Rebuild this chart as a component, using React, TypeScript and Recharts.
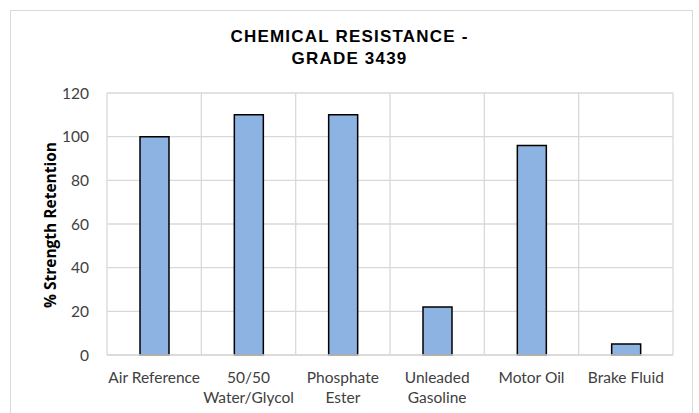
import React from 'react';
import { BarChart, Bar, XAxis, YAxis, CartesianGrid } from 'recharts';

// 類別與數值
const categories = [
  'Air Reference',
  '50/50\nWater/Glycol',
  'Phosphate\nEster',
  'Unleaded\nGasoline',
  'Motor Oil',
  'Brake Fluid',
];
const retention = [100, 110, 110, 22, 96, 5];
const yTicks = [0, 20, 40, 60, 80, 100, 120];

const data = categories.map((name, i) => ({ name, value: retention[i] }));

const labelFont = 'Lato, "Open Sans", sans-serif';
const gridColor = '#d9d9d9';

// 多行 X 軸標籤
const CategoryTick = (props: any) => {
  const { x, y, payload } = props;
  const lines = String(payload.value).split('\n');
  return (
    <g transform={`translate(${x},${y})`}>
      {lines.map((line, i) => (
        <text
          key={i}
          x={0}
          y={i * 20}
          dy={14}
          textAnchor="middle"
          fill="#404040"
          fontSize={15.5}
          fontFamily={labelFont}
        >
          {line}
        </text>
      ))}
    </g>
  );
};

// 類別分隔的垂直格線
const boundaryLines = ({ offset }: any) => {
  const n = categories.length;
  const out: number[] = [];
  for (let i = 0; i <= n; i++) out.push(offset.left + (offset.width * i) / n);
  return out;
};

export default function App() {
  return (
    <div
      style={{
        position: 'absolute',
        left: 0,
        top: 0,
        width: 699,
        height: 413,
        background: '#fff',
        overflow: 'hidden',
      }}
    >
      <div
        style={{
          position: 'absolute',
          left: 10,
          top: 10,
          width: 681,
          height: 420,
          border: '1px solid #d9d9d9',
        }}
      />
      <div
        style={{
          position: 'absolute',
          left: 0,
          top: 26,
          width: 699,
          textAlign: 'center',
          fontFamily: '"Liberation Sans", Arial, sans-serif',
          fontWeight: 'bold',
          fontSize: 17,
          letterSpacing: 1.2,
          lineHeight: '22px',
          color: '#000',
        }}
      >
        CHEMICAL RESISTANCE -
        <br />
        GRADE 3439
      </div>
      <div
        style={{
          position: 'absolute',
          left: 50,
          top: 225,
          transform: 'translate(-50%, -50%) rotate(-90deg)',
          whiteSpace: 'nowrap',
          fontFamily: '"Open Sans", sans-serif',
          fontWeight: 'bold',
          fontSize: 15.5,
          color: '#000',
        }}
      >
        % Strength Retention
      </div>
      <BarChart
        width={699}
        height={413}
        data={data}
        margin={{ top: 93, right: 26, left: 0, bottom: 0 }}
        style={{ position: 'absolute', left: 0, top: 0 }}
      >
        <CartesianGrid
          stroke={gridColor}
          strokeWidth={1.3}
          verticalCoordinatesGenerator={boundaryLines}
        />
        <XAxis
          dataKey="name"
          height={58}
          interval={0}
          tickLine={false}
          axisLine={{ stroke: gridColor, strokeWidth: 1.3 }}
          tick={<CategoryTick />}
          tickMargin={8}
        />
        <YAxis
          width={107}
          domain={[0, 120]}
          ticks={yTicks}
          tickLine={false}
          axisLine={false}
          tickMargin={12}
          tick={{ fill: '#404040', fontSize: 15.5, fontFamily: labelFont }}
        />
        <Bar
          dataKey="value"
          fill="#8DB3E2"
          stroke="#000"
          strokeWidth={1.5}
          barSize={29}
          isAnimationActive={false}
        />
      </BarChart>
    </div>
  );
}
